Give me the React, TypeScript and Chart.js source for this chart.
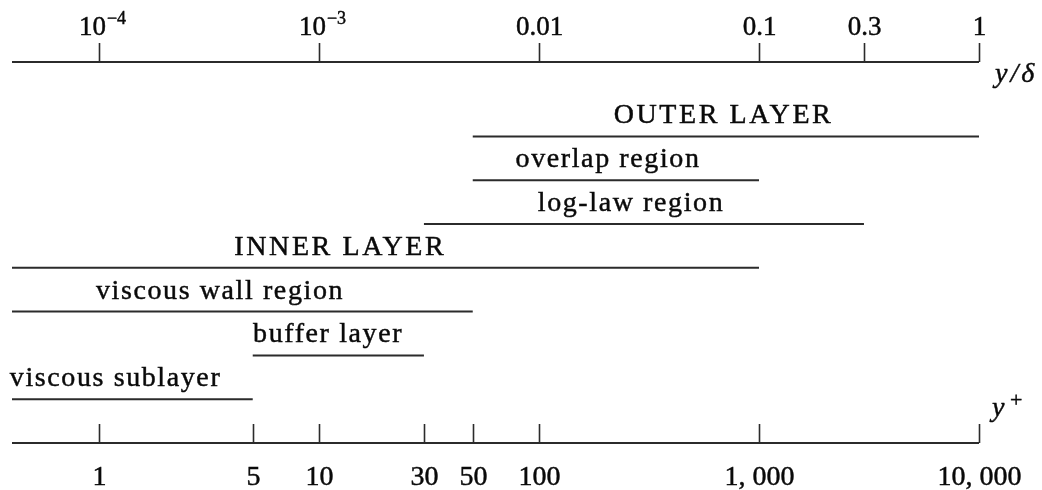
import React, { useEffect, useRef } from "react";
import { Chart, registerables } from "chart.js";

Chart.register(...registerables);

// ---- data ----
const REGION_NAMES = [
  "OUTER LAYER",
  "overlap region",
  "log-law region",
  "INNER LAYER",
  "viscous wall region",
  "buffer layer",
  "viscous sublayer",
];
const REGION_START = [50, 50, 30, 0.4025, 0.4025, 5, 0.4025];
const REGION_END = [10000, 1000, 3000, 1000, 50, 30, 5];
const REGION_ROW = [7, 6, 5, 4, 3, 2, 1];
const LABEL_CENTER = [690, 206, 262, 12.5, 3.55, 11, 1.19];

const YPLUS_MIN = 0.4025;
const YPLUS_MAX = 10000;
const DELTA_MIN = 0.4025e-4;
const DELTA_MAX = 1;
const BOTTOM_ROW = 0;
const TOP_ROW = 8.7;

const BOTTOM_TICKS = [1, 5, 10, 30, 50, 100, 1000, 10000];
const BOTTOM_TICK_LABELS = ["1", "5", "10", "30", "50", "100", "1, 000", "10, 000"];
const TOP_TICKS = [1e-4, 1e-3, 0.01, 0.1, 0.3, 1];
const TOP_TICK_BASES = ["10", "10", "0.01", "0.1", "0.3", "1"];
const TOP_TICK_EXPONENTS = ["\u22124", "\u22123", "", "", "", ""];

const SERIF = "'Liberation Serif', 'Times New Roman', serif";
const INK = "#0a0a0a";
const LINE = "#2b2b2b";

function inkText(ctx: CanvasRenderingContext2D, s: string, x: number, y: number) {
  ctx.fillText(s, x, y);
  ctx.strokeText(s, x, y);
}

const axesPlugin = {
  id: "boundaryAxes",
  afterDatasetsDraw(chart: any) {
    const ctx: CanvasRenderingContext2D = chart.ctx;
    const xs = chart.scales.x;
    const xt = chart.scales.xTop;
    const ys = chart.scales.y;
    ctx.save();
    ctx.lineCap = "butt";

    const textStroke = () => {
      ctx.fillStyle = INK;
      ctx.strokeStyle = INK;
      ctx.lineWidth = 0.45;
    };

    // top axis
    const yTop = ys.getPixelForValue(TOP_ROW);
    ctx.strokeStyle = LINE;
    ctx.lineWidth = 2;
    ctx.beginPath();
    ctx.moveTo(xt.getPixelForValue(DELTA_MIN), yTop);
    ctx.lineTo(xt.getPixelForValue(DELTA_MAX), yTop);
    ctx.stroke();
    TOP_TICKS.forEach((v, i) => {
      const px = Math.round(xt.getPixelForValue(v)) + 0.5;
      ctx.strokeStyle = LINE;
      ctx.lineWidth = 1.6;
      ctx.beginPath();
      ctx.moveTo(px, yTop);
      ctx.lineTo(px, yTop - 19);
      ctx.stroke();
      const base = TOP_TICK_BASES[i];
      const exp = TOP_TICK_EXPONENTS[i];
      textStroke();
      ctx.textBaseline = "alphabetic";
      ctx.textAlign = "left";
      ctx.font = `27px ${SERIF}`;
      const bw = ctx.measureText(base).width;
      ctx.font = `18px ${SERIF}`;
      const ew = exp ? ctx.measureText(exp).width + 1 : 0;
      const total = bw + ew;
      const left = px - total / 2 + (exp ? 3 : 0);
      ctx.font = `27px ${SERIF}`;
      inkText(ctx, base, left, 35);
      if (exp) {
        ctx.font = `18px ${SERIF}`;
        inkText(ctx, exp, left + bw + 1, 24);
      }
    });

    // bottom axis
    const yBot = ys.getPixelForValue(BOTTOM_ROW);
    ctx.strokeStyle = LINE;
    ctx.lineWidth = 2;
    ctx.beginPath();
    ctx.moveTo(xs.getPixelForValue(YPLUS_MIN), yBot);
    ctx.lineTo(xs.getPixelForValue(YPLUS_MAX), yBot);
    ctx.stroke();
    BOTTOM_TICKS.forEach((v, i) => {
      const px = Math.round(xs.getPixelForValue(v)) + 0.5;
      ctx.strokeStyle = LINE;
      ctx.lineWidth = 1.6;
      ctx.beginPath();
      ctx.moveTo(px, yBot);
      ctx.lineTo(px, yBot - 19);
      ctx.stroke();
      textStroke();
      ctx.font = `28px ${SERIF}`;
      ctx.textAlign = "center";
      ctx.textBaseline = "alphabetic";
      inkText(ctx, BOTTOM_TICK_LABELS[i], px, 485);
    });

    // axis titles
    textStroke();
    ctx.textAlign = "left";
    ctx.font = `italic 28px ${SERIF}`;
    (ctx as any).letterSpacing = "3px";
    inkText(ctx, "y/\u03b4", 995, 82);
    (ctx as any).letterSpacing = "0px";
    inkText(ctx, "y", 992, 416);
    ctx.font = `22px ${SERIF}`;
    inkText(ctx, "+", 1010, 407);

    // region labels
    ctx.textAlign = "center";
    REGION_NAMES.forEach((name, i) => {
      const upper = name === name.toUpperCase();
      ctx.font = `28px ${SERIF}`;
      (ctx as any).letterSpacing = upper ? "2.6px" : "1.6px";
      const px = xs.getPixelForValue(LABEL_CENTER[i]);
      const py = ys.getPixelForValue(REGION_ROW[i]) - 13;
      inkText(ctx, name, px, py);
    });
    ctx.restore();
  },
};

export default function App() {
  const ref = useRef<HTMLCanvasElement | null>(null);
  useEffect(() => {
    if (!ref.current) return;
    const datasets = REGION_NAMES.map((name, i) => ({
      label: name,
      data: [
        { x: REGION_START[i], y: REGION_ROW[i] },
        { x: REGION_END[i], y: REGION_ROW[i] },
      ],
      borderColor: LINE,
      borderWidth: 2,
      pointRadius: 0,
      borderCapStyle: "butt" as const,
      fill: false,
      tension: 0,
    }));
    const chart = new Chart(ref.current, {
      type: "line",
      data: { datasets },
      options: {
        animation: false,
        responsive: false,
        devicePixelRatio: 1,
        layout: { padding: { left: 12, right: 63, top: 62, bottom: 47 } },
        plugins: { legend: { display: false }, tooltip: { enabled: false } },
        scales: {
          x: { type: "logarithmic", min: YPLUS_MIN, max: YPLUS_MAX, display: false },
          xTop: {
            type: "logarithmic",
            axis: "x",
            position: "top",
            min: DELTA_MIN,
            max: DELTA_MAX,
            display: false,
          },
          y: { type: "linear", min: BOTTOM_ROW, max: TOP_ROW, display: false },
        },
      } as any,
      plugins: [axesPlugin],
    });
    return () => chart.destroy();
  }, []);
  return (
    <div style={{ position: "fixed", left: 0, top: 0, width: 1042, height: 490, background: "#fff" }}>
      <canvas ref={ref} width={1042} height={490} style={{ display: "block" }} />
    </div>
  );
}
